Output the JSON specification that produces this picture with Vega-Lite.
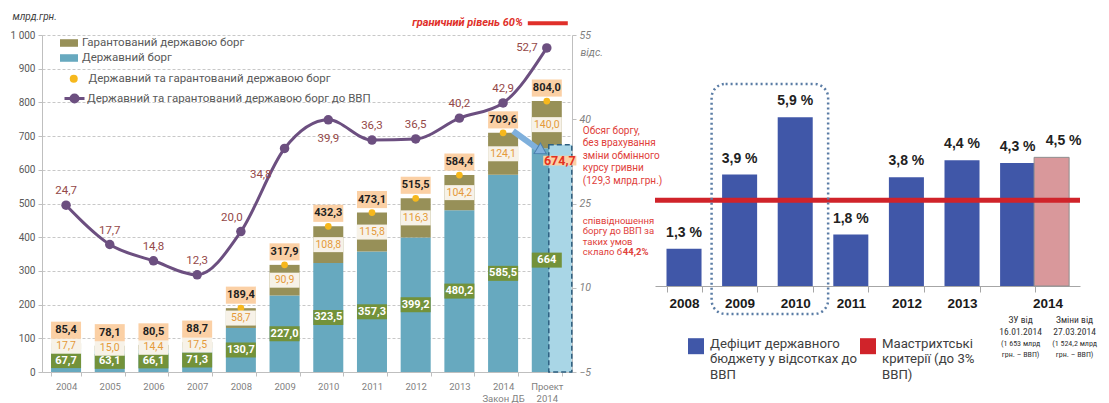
{
  "$schema": "https://vega.github.io/schema/vega-lite/v6.json",
  "background": "white",
  "padding": {"left": 10, "top": 11, "right": 0, "bottom": 0},
  "config": {
    "view": {"stroke": null},
    "font": "Roboto",
    "locale": {"number": {"decimal": ",", "thousands": " ", "grouping": [3], "currency": ["", " %"]}},
    "axis": {"labelFont": "Roboto", "titleFont": "Roboto"},
    "legend": {"labelFont": "Roboto", "padding": 0}
  },
  "datasets": {
    "debt": [
      {"year": "2004", "type": "Державний борг", "value": 67.7},
      {"year": "2004", "type": "Гарантований державою борг", "value": 17.7},
      {"year": "2005", "type": "Державний борг", "value": 63.1},
      {"year": "2005", "type": "Гарантований державою борг", "value": 15.0},
      {"year": "2006", "type": "Державний борг", "value": 66.1},
      {"year": "2006", "type": "Гарантований державою борг", "value": 14.4},
      {"year": "2007", "type": "Державний борг", "value": 71.3},
      {"year": "2007", "type": "Гарантований державою борг", "value": 17.5},
      {"year": "2008", "type": "Державний борг", "value": 130.7},
      {"year": "2008", "type": "Гарантований державою борг", "value": 58.7},
      {"year": "2009", "type": "Державний борг", "value": 227.0},
      {"year": "2009", "type": "Гарантований державою борг", "value": 90.9},
      {"year": "2010", "type": "Державний борг", "value": 323.5},
      {"year": "2010", "type": "Гарантований державою борг", "value": 108.8},
      {"year": "2011", "type": "Державний борг", "value": 357.3},
      {"year": "2011", "type": "Гарантований державою борг", "value": 115.8},
      {"year": "2012", "type": "Державний борг", "value": 399.2},
      {"year": "2012", "type": "Гарантований державою борг", "value": 116.3},
      {"year": "2013", "type": "Державний борг", "value": 480.2},
      {"year": "2013", "type": "Гарантований державою борг", "value": 104.2},
      {"year": "2014 Закон ДБ", "type": "Державний борг", "value": 585.5},
      {"year": "2014 Закон ДБ", "type": "Гарантований державою борг", "value": 124.1},
      {"year": "Проект 2014", "type": "Державний борг", "value": 664},
      {"year": "Проект 2014", "type": "Гарантований державою борг", "value": 140.0}
    ],
    "totals": [
      {"year": "2004", "total": 85.4, "ratio": 24.7},
      {"year": "2005", "total": 78.1, "ratio": 17.7},
      {"year": "2006", "total": 80.5, "ratio": 14.8},
      {"year": "2007", "total": 88.7, "ratio": 12.3},
      {"year": "2008", "total": 189.4, "ratio": 20.0},
      {"year": "2009", "total": 317.9, "ratio": 34.8},
      {"year": "2010", "total": 432.3, "ratio": 39.9},
      {"year": "2011", "total": 473.1, "ratio": 36.3},
      {"year": "2012", "total": 515.5, "ratio": 36.5},
      {"year": "2013", "total": 584.4, "ratio": 40.2},
      {"year": "2014 Закон ДБ", "total": 709.6, "ratio": 42.9},
      {"year": "Проект 2014", "total": 804.0, "ratio": 52.7}
    ],
    "adj": [{"year": "Проект 2014", "value": 674.7}],
    "deficit": [
      {"year": "2008", "v": 1.3, "variant": "main"},
      {"year": "2009", "v": 3.9, "variant": "main"},
      {"year": "2010", "v": 5.9, "variant": "main"},
      {"year": "2011", "v": 1.8, "variant": "main"},
      {"year": "2012", "v": 3.8, "variant": "main"},
      {"year": "2013", "v": 4.4, "variant": "main"},
      {"year": "2014", "v": 4.3, "variant": "ЗУ"},
      {"year": "2014", "v": 4.5, "variant": "Зміни"}
    ]
  },
  "bounds": "flush",
  "spacing": 83,
  "hconcat": [
    {
      "width": 530,
      "height": 337,
      "resolve": {"scale": {"y": "independent", "color": "independent"}},
      "layer": [
        {
          "data": {"name": "totals"},
          "mark": {"type": "point", "filled": true, "size": 45, "opacity": 0},
          "encoding": {
            "x": {
              "field": "year", "type": "nominal",
              "scale": {"paddingInner": 0.313, "paddingOuter": 0.22, "align": 0.47},
              "axis": {
                "title": null, "labelAngle": 0, "labelColor": "#7f7f7f", "labelFontSize": 9.5,
                "labelExpr": "datum.value === '2014 Закон ДБ' ? ['2014', 'Закон ДБ'] : datum.value === 'Проект 2014' ? ['Проект', '2014'] : datum.label",
                "labelLineHeight": 12, "tickBand": "extent", "tickColor": "#bfbfbf", "tickSize": 4,
                "domainColor": "#bfbfbf", "labelPadding": 5, "grid": false
              }
            },
            "y": {
              "field": "total", "type": "quantitative",
              "scale": {"domain": [0, 1000], "nice": false},
              "axis": {
                "values": [0, 100, 200, 300, 400, 500, 600, 700, 800, 900, 1000],
                "labelOverlap": false, "grid": true,
                "title": "млрд.грн.", "titleAngle": 0, "titleX": -30, "titleY": -19,
                "titleAlign": "left", "titleBaseline": "middle", "titleFontStyle": "italic",
                "titleFontWeight": "normal", "titleFontSize": 10, "titleColor": "#404040",
                "gridDash": [3, 2], "gridColor": "#c8c8c8", "gridWidth": 1, "gridOpacity": 1, "labelColor": "#595959",
                "labelFontSize": 10, "tickColor": "#bfbfbf", "domainColor": "#bfbfbf", "tickSize": 4, "labelPadding": 3
              }
            }
          }
        },
        {
          "layer": [
            {
              "data": {"name": "debt"},
              "mark": {"type": "bar"},
              "encoding": {
                "x": {"field": "year", "type": "nominal"},
                "y": {"field": "value", "type": "quantitative", "stack": "zero", "scale": {"domain": [0, 1000], "nice": false}, "axis": null},
                "color": {
                  "field": "type", "type": "nominal",
                  "scale": {"domain": ["Гарантований державою борг", "Державний борг"], "range": ["#979058", "#67a9bf"]},
                  "legend": {
                    "orient": "none", "legendX": 18, "legendY": -1, "title": null,
                    "symbolType": "M-1,-0.42H1V0.42H-1Z", "symbolSize": 324, "symbolStrokeWidth": 0,
                    "labelFontSize": 11.5, "labelColor": "#595959", "rowPadding": 0, "labelLimit": 400
                  }
                },
                "order": {"field": "type", "sort": "descending"}
              }
            },
            {
              "data": {"name": "adj"},
              "mark": {"type": "bar", "width": 23, "xOffset": 13.5, "fill": "#a9d6e6", "stroke": "#2d5f80", "strokeDash": [5, 3], "strokeWidth": 1.5},
              "encoding": {
                "x": {"field": "year", "type": "nominal"},
                "y": {"field": "value", "type": "quantitative", "axis": null}
              }
            }
          ]
        },
        {
          "data": {"name": "totals"},
          "mark": {"type": "point", "filled": true, "size": 45, "opacity": 1},
          "encoding": {
            "x": {"field": "year", "type": "nominal"},
            "y": {"field": "total", "type": "quantitative", "scale": {"domain": [0, 1000], "nice": false}, "axis": null},
            "color": {
              "datum": "Державний та гарантований державою борг",
              "scale": {"range": ["#f6b81d"]},
              "legend": {"orient": "none", "legendX": 26, "legendY": 38, "title": null, "symbolType": "circle", "symbolSize": 64, "labelOffset": 9, "labelFontSize": 11.5, "labelColor": "#595959", "labelLimit": 400}
            }
          }
        },
        {
          "layer": [
            {
              "data": {"name": "debt"},
              "mark": {"type": "point", "shape": "M-1,-0.5H1V0.5H-1Z", "filled": true, "size": 900, "opacity": 1},
              "encoding": {
                "x": {"field": "year", "type": "nominal"},
                "y": {"field": "value", "type": "quantitative", "stack": "zero", "bandPosition": 0.5, "scale": {"domain": [0, 1000], "nice": false}, "axis": null},
                "detail": {"field": "type"},
                "order": {"field": "type", "sort": "descending"},
                "fill": {"condition": {"test": "datum.type === 'Державний борг'", "value": "#73923a"}, "value": "#f7f2e8"}
              }
            },
            {
              "data": {"name": "debt"},
              "mark": {"type": "text", "fontWeight": "bold", "fontSize": 11, "color": "white", "baseline": "middle"},
              "encoding": {
                "x": {"field": "year", "type": "nominal"},
                "y": {"field": "value", "type": "quantitative", "stack": "zero", "bandPosition": 0.5, "axis": null},
                "detail": {"field": "type"},
                "order": {"field": "type", "sort": "descending"},
                "text": {"condition": {"test": "datum.value !== 664", "field": "value", "format": ".1f"}, "value": "664"},
                "opacity": {"condition": {"test": "datum.type === 'Державний борг'", "value": 1}, "value": 0}
              }
            },
            {
              "data": {"name": "debt"},
              "mark": {"type": "text", "fontSize": 10.5, "color": "#e59a3a", "baseline": "middle"},
              "encoding": {
                "x": {"field": "year", "type": "nominal"},
                "y": {"field": "value", "type": "quantitative", "stack": "zero", "bandPosition": 0.5, "axis": null},
                "detail": {"field": "type"},
                "order": {"field": "type", "sort": "descending"},
                "text": {"field": "value", "format": ".1f"},
                "opacity": {"condition": {"test": "datum.type === 'Державний борг'", "value": 0}, "value": 1}
              }
            },
            {
              "data": {"name": "totals"},
              "mark": {"type": "point", "shape": "M-1,-0.57H1V0.57H-1Z", "filled": true, "size": 900, "opacity": 1, "fill": "#fbd0a5", "yOffset": -13},
              "encoding": {
                "x": {"field": "year", "type": "nominal"},
                "y": {"field": "total", "type": "quantitative", "axis": null}
              }
            },
            {
              "data": {"name": "totals"},
              "mark": {"type": "text", "fontWeight": "bold", "fontSize": 11, "color": "#1f1f1f", "baseline": "middle", "yOffset": -13},
              "encoding": {
                "x": {"field": "year", "type": "nominal"},
                "y": {"field": "total", "type": "quantitative", "axis": null},
                "text": {"field": "total", "format": ".1f"}
              }
            },
            {
              "data": {"name": "adj"},
              "mark": {"type": "rule", "strokeWidth": 6, "color": "#7fb0dc", "xOffset": 10, "x2Offset": -8},
              "encoding": {
                "x": {"datum": "2014 Закон ДБ"},
                "x2": {"datum": "Проект 2014"},
                "y": {"datum": 715, "axis": null},
                "y2": {"datum": 660}
              }
            },
            {
              "data": {"name": "adj"},
              "mark": {"type": "point", "shape": "triangle-right", "filled": true, "size": 150, "angle": 31, "opacity": 1, "color": "#7fb0dc", "stroke": "#4a7fae", "strokeWidth": 1, "xOffset": -5},
              "encoding": {
                "x": {"datum": "Проект 2014"},
                "y": {"datum": 656, "axis": null}
              }
            },
            {
              "data": {"name": "adj"},
              "mark": {"type": "point", "shape": "M-1,-0.3H1V0.3H-1Z", "filled": true, "size": 1100, "opacity": 1, "fill": "#fbd0a5", "xOffset": 13, "yOffset": 16},
              "encoding": {
                "x": {"field": "year", "type": "nominal"},
                "y": {"field": "value", "type": "quantitative", "axis": null}
              }
            },
            {
              "data": {"name": "adj"},
              "mark": {"type": "text", "fontWeight": "bold", "fontSize": 12.5, "color": "#e3321f", "baseline": "middle", "xOffset": 13, "yOffset": 16},
              "encoding": {
                "x": {"field": "year", "type": "nominal"},
                "y": {"field": "value", "type": "quantitative", "axis": null},
                "text": {"field": "value", "format": ".1f"}
              }
            },
            {
              "data": {"name": "adj"},
              "mark": {"type": "text", "text": "граничний рівень 60%", "fontWeight": "bold", "fontStyle": "italic", "fontSize": 11, "color": "#e0302a", "align": "right", "baseline": "middle", "dx": -24},
              "encoding": {
                "x": {"datum": "Проект 2014"},
                "y": {"datum": 1035, "axis": null}
              }
            },
            {
              "data": {"name": "adj"},
              "mark": {"type": "rule", "strokeWidth": 4, "color": "#e0302a", "xOffset": -19, "x2Offset": 21},
              "encoding": {
                "x": {"datum": "Проект 2014"},
                "x2": {"datum": "Проект 2014"},
                "y": {"datum": 1035, "axis": null}
              }
            },
            {
              "data": {"name": "adj"},
              "mark": {"type": "text", "text": "Обсяг боргу,\nбез врахування\nзміни обмінного\nкурсу гривни\n(129,3 млрд.грн.)", "lineBreak": "\n", "lineHeight": 12.5, "fontSize": 10, "color": "#e0403a", "align": "left", "baseline": "top", "dx": 36},
              "encoding": {
                "x": {"datum": "Проект 2014"},
                "y": {"datum": 730, "axis": null}
              }
            },
            {
              "data": {"name": "adj"},
              "mark": {"type": "text", "text": "співвідношення\nборгу до ВВП за\nтаких умов\nсклало б", "lineBreak": "\n", "lineHeight": 10.5, "fontSize": 9.5, "color": "#e0403a", "align": "left", "baseline": "top", "dx": 36},
              "encoding": {
                "x": {"datum": "Проект 2014"},
                "y": {"datum": 463, "axis": null}
              }
            },
            {
              "data": {"name": "adj"},
              "mark": {"type": "text", "text": "44,2%", "fontWeight": "bold", "fontSize": 9.5, "color": "#e0403a", "align": "left", "baseline": "top", "dx": 76},
              "encoding": {
                "x": {"datum": "Проект 2014"},
                "y": {"datum": 369.5, "axis": null}
              }
            }
          ]
        },
        {
          "data": {"name": "totals"},
          "layer": [
            {
              "mark": {"type": "line", "interpolate": "monotone", "strokeWidth": 3, "point": {"filled": true, "size": 90}},
              "encoding": {
                "x": {"field": "year", "type": "nominal"},
                "y": {
                  "field": "ratio", "type": "quantitative",
                  "scale": {"domain": [-5, 55], "nice": false, "zero": false},
                  "axis": {
                    "orient": "right", "values": [-5, 10, 25, 40, 55], "grid": false,
                    "labelFontStyle": "italic", "labelColor": "#7f7f7f", "labelFontSize": 10.5,
                    "tickColor": "#bfbfbf", "domainColor": "#bfbfbf", "tickSize": 4, "labelPadding": 3,
                    "title": "відс.", "titleAngle": 0, "titleX": 8, "titleY": 17, "titleAlign": "left",
                    "titleBaseline": "middle", "titleFontStyle": "italic", "titleFontWeight": "normal",
                    "titleFontSize": 10.5, "titleColor": "#7f7f7f"
                  }
                },
                "color": {
                  "datum": "Державний та гарантований державою борг до ВВП",
                  "scale": {"range": ["#6c4f80"]},
                  "legend": {
                    "orient": "none", "legendX": 21, "legendY": 52, "title": null,
                    "symbolType": "M-1,0H1M0.35,0A0.35,0.35 0 1,1 -0.35,0A0.35,0.35 0 1,1 0.35,0Z",
                    "symbolSize": 400, "symbolStrokeWidth": 3, "symbolFillColor": "#6c4f80",
                    "labelOffset": 1, "labelFontSize": 11.5, "labelColor": "#595959", "labelLimit": 400
                  }
                }
              }
            },
            {
              "transform": [{"filter": "datum.year !== '2008' && datum.year !== '2009' && datum.year !== '2010' && datum.year !== 'Проект 2014'"}],
              "mark": {"type": "text", "fontSize": 11.5, "color": "#944848", "baseline": "middle", "dy": -14},
              "encoding": {
                "x": {"field": "year", "type": "nominal"},
                "y": {"field": "ratio", "type": "quantitative"},
                "text": {"field": "ratio", "format": ".1f"}
              }
            },
            {
              "transform": [{"filter": "datum.year === '2008'"}],
              "mark": {"type": "text", "fontSize": 11.5, "color": "#944848", "baseline": "middle", "dy": -14, "dx": -9},
              "encoding": {
                "x": {"field": "year", "type": "nominal"},
                "y": {"field": "ratio", "type": "quantitative"},
                "text": {"field": "ratio", "format": ".1f"}
              }
            },
            {
              "transform": [{"filter": "datum.year === '2010'"}],
              "mark": {"type": "text", "fontSize": 11.5, "color": "#944848", "baseline": "middle", "dy": 19},
              "encoding": {
                "x": {"field": "year", "type": "nominal"},
                "y": {"field": "ratio", "type": "quantitative"},
                "text": {"field": "ratio", "format": ".1f"}
              }
            },
            {
              "transform": [{"filter": "datum.year === '2009'"}],
              "mark": {"type": "text", "fontSize": 11.5, "color": "#944848", "baseline": "middle", "align": "right", "dx": -13, "dy": 27},
              "encoding": {
                "x": {"field": "year", "type": "nominal"},
                "y": {"field": "ratio", "type": "quantitative"},
                "text": {"field": "ratio", "format": ".1f"}
              }
            },
            {
              "transform": [{"filter": "datum.year === 'Проект 2014'"}],
              "mark": {"type": "text", "fontSize": 11.5, "color": "#944848", "baseline": "middle", "align": "right", "dx": -9},
              "encoding": {
                "x": {"field": "year", "type": "nominal"},
                "y": {"field": "ratio", "type": "quantitative"},
                "text": {"field": "ratio", "format": ".1f"}
              }
            }
          ]
        }
      ]
    },
    {
      "width": 425,
      "height": 251,
      "data": {"name": "deficit"},
      "layer": [
        {
          "transform": [{"filter": "datum.variant !== 'Зміни'"}],
          "mark": {"type": "bar"},
          "encoding": {
            "x": {
              "field": "year", "type": "nominal",
              "scale": {"paddingInner": 0.37, "paddingOuter": 0.507, "align": 0.204},
              "axis": {
                "title": null, "labelAngle": 0, "labelFont": "Liberation Sans", "labelFontWeight": "bold",
                "labelFontSize": 13.5, "labelColor": "#1a1a1a", "tickBand": "extent", "tickSize": 6,
                "tickColor": "#a6a6a6", "domainColor": "#a6a6a6", "labelPadding": 4,
                "labelOffset": {"condition": {"test": "datum.value === '2014'", "value": 30}, "value": 0}
              }
            },
            "y": {"field": "v", "type": "quantitative", "scale": {"domain": [0, 8.78], "nice": false}, "axis": null},
            "color": {
              "datum": "Дефіцит державного|бюджету у відсотках до|ВВП",
              "scale": {"domain": ["Дефіцит державного|бюджету у відсотках до|ВВП", "Маастрихтські|критерії (до 3%|ВВП)"], "range": ["#4057a8", "#d0232a"]},
              "legend": {
                "orient": "none", "legendX": 646, "legendY": 295, "direction": "horizontal", "title": null,
                "symbolType": "M-1,0H1V2H-1Z", "symbolSize": 256, "symbolStrokeWidth": 0, "labelFontSize": 13.2,
                "labelColor": "#404040", "labelLimit": 400, "labelExpr": "split(datum.label, '|')",
                "columnPadding": 2, "labelOffset": 6, "labelBaseline": "top"
              }
            }
          }
        },
        {
          "transform": [{"filter": "datum.variant === 'Зміни'"}],
          "mark": {"type": "bar", "fill": "#d9989b", "stroke": "#8f8f8f", "strokeWidth": 1, "xOffset": 34},
          "encoding": {
            "x": {"field": "year", "type": "nominal"},
            "y": {"field": "v", "type": "quantitative"}
          }
        },
        {
          "transform": [{"filter": "datum.year === '2008'"}],
          "mark": {"type": "rect", "yOffset": -2.5, "y2Offset": 2.5},
          "encoding": {
            "y": {"datum": 3},
            "y2": {"datum": 3},
            "color": {"datum": "Маастрихтські|критерії (до 3%|ВВП)"}
          }
        },
        {
          "transform": [{"filter": "datum.variant !== 'Зміни'"}],
          "mark": {"type": "text", "font": "Liberation Sans", "fontWeight": "bold", "fontSize": 14, "color": "#222222", "baseline": "alphabetic", "dy": -12},
          "encoding": {
            "x": {"field": "year", "type": "nominal"},
            "y": {"field": "v", "type": "quantitative"},
            "text": {"field": "v", "format": "$.1f"}
          }
        },
        {
          "transform": [{"filter": "datum.variant === 'Зміни'"}],
          "mark": {"type": "text", "font": "Liberation Sans", "fontWeight": "bold", "fontSize": 14, "color": "#222222", "baseline": "alphabetic", "dy": -12, "dx": 46},
          "encoding": {
            "x": {"field": "year", "type": "nominal"},
            "y": {"field": "v", "type": "quantitative"},
            "text": {"field": "v", "format": "$.1f"}
          }
        },
        {
          "transform": [{"filter": "datum.year === '2008'"}],
          "mark": {"type": "rect", "fill": null, "fillOpacity": 0, "stroke": "#5a7ca5", "strokeWidth": 2.5, "strokeDash": [2, 3], "cornerRadius": 14},
          "encoding": {
            "x": {"datum": "2009", "bandPosition": -0.3},
            "x2": {"datum": "2010", "bandPosition": 1.44},
            "y": {"datum": 7.07},
            "y2": {"datum": -0.98}
          }
        },
        {
          "transform": [{"filter": "datum.year === '2008'"}],
          "mark": {"type": "text", "text": "ЗУ від\n16.01.2014", "lineBreak": "\n", "lineHeight": 11.5, "font": "Liberation Sans Narrow, Roboto Condensed, Liberation Sans", "fontSize": 9.5, "color": "#333333", "align": "center", "baseline": "top", "dy": 29, "dx": 3},
          "encoding": {
            "x": {"datum": "2014"},
            "y": {"datum": 0}
          }
        },
        {
          "transform": [{"filter": "datum.year === '2008'"}],
          "mark": {"type": "text", "text": "(1 653 млрд\nгрн. – ВВП)", "lineBreak": "\n", "lineHeight": 10.5, "font": "Liberation Sans Narrow, Roboto Condensed, Liberation Sans", "fontSize": 8, "color": "#333333", "align": "center", "baseline": "top", "dy": 54, "dx": 3},
          "encoding": {
            "x": {"datum": "2014"},
            "y": {"datum": 0}
          }
        },
        {
          "transform": [{"filter": "datum.year === '2008'"}],
          "mark": {"type": "text", "text": "Зміни від\n27.03.2014", "lineBreak": "\n", "lineHeight": 11.5, "font": "Liberation Sans Narrow, Roboto Condensed, Liberation Sans", "fontSize": 9.5, "color": "#333333", "align": "center", "baseline": "top", "dy": 29, "dx": 57},
          "encoding": {
            "x": {"datum": "2014"},
            "y": {"datum": 0}
          }
        },
        {
          "transform": [{"filter": "datum.year === '2008'"}],
          "mark": {"type": "text", "text": "(1 524,2 млрд\nгрн. – ВВП)", "lineBreak": "\n", "lineHeight": 10.5, "font": "Liberation Sans Narrow, Roboto Condensed, Liberation Sans", "fontSize": 8, "color": "#333333", "align": "center", "baseline": "top", "dy": 54, "dx": 57},
          "encoding": {
            "x": {"datum": "2014"},
            "y": {"datum": 0}
          }
        }
      ]
    }
  ]
}
